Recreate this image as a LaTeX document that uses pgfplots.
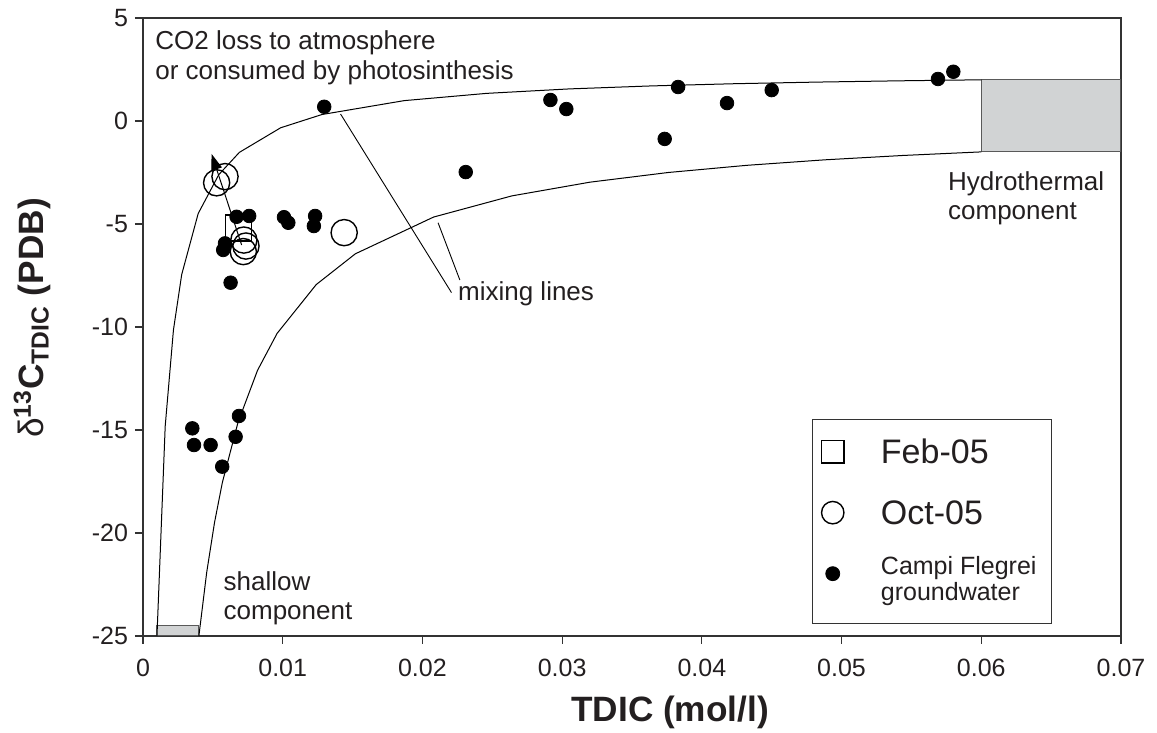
\documentclass[border=0pt]{standalone}
\usepackage{fontspec}
\setmainfont{Liberation Sans}
\usepackage{pgfplots}
\pgfplotsset{compat=1.18}
\usetikzlibrary{arrows.meta}
\definecolor{boxgray}{HTML}{D1D3D4}
\definecolor{txt}{HTML}{231F20}
\definecolor{axgray}{HTML}{333333}
\begin{document}
\begin{tikzpicture}[x=1pt,y=1pt]
\path[use as bounding box] (0,0) rectangle (578.5,366.5);
\begin{axis}[
  at={(71.5pt,48.5pt)}, anchor=south west,
  scale only axis, width=489pt, height=309pt,
  xmin=0, xmax=0.07, ymin=-25, ymax=5,
  scaled x ticks=false, scaled y ticks=false,
  xtick={0,0.01,0.02,0.03,0.04,0.05,0.06,0.07},
  xticklabels={0,0.01,0.02,0.03,0.04,0.05,0.06,0.07},
  ytick={-25,-20,-15,-10,-5,0,5},
  yticklabels={-25,-20,-15,-10,-5,0,5},
  tick align=outside, xtick pos=bottom, ytick pos=left,
  major tick length=4pt,
  tick style={axgray, line width=0.6pt},
  axis line style={axgray, line width=0.7pt},
  ticklabel style={font=\fontsize{12.5}{15}\selectfont, text=txt},
  xticklabel style={yshift=-4pt},
  clip=false,
  xlabel={\fontsize{17.6}{20}\selectfont\bfseries TDIC (mol/l)},
  ylabel={\fontsize{17.6}{20}\selectfont δ\textsuperscript{\bfseries 13}\textbf{C}\textsubscript{\bfseries TDIC}\textbf{ (PDB)}},
  every axis x label/.style={at={(axis description cs:0.539,-0.139)}, anchor=base, text=txt},
  every axis y label/.style={at={(axis description cs:-0.1019,0.5146)}, rotate=90, anchor=base, text=txt},
  legend cell align=left,
  legend style={at={(axis description cs:0.684,0.3511)}, anchor=north west,
    draw=axgray, line width=0.6pt, inner xsep=4.5pt, inner ysep=7.5pt,
    row sep=16pt, nodes={inner sep=0pt, text depth=, text height=, text=txt},
    /tikz/every odd column/.append style={column sep=18.5pt}},
]
% hydrothermal and shallow components
\addplot[fill=boxgray, draw=black!65, line width=0.5pt, forget plot] coordinates {(0.06,-1.5) (0.07,-1.5) (0.07,2) (0.06,2) (0.06,-1.5)};
\addplot[fill=boxgray, draw=black!65, line width=0.5pt, forget plot] coordinates {(0.001,-25) (0.004,-25) (0.004,-24.5) (0.001,-24.5) (0.001,-25)};
% mixing lines
\addplot[black, line width=0.5pt, mark=none, forget plot] coordinates {
(0.001,-25) (0.00159,-14.81) (0.00218,-10.14) (0.00277,-7.455) (0.00395,-4.494)
(0.005425,-2.604) (0.0069,-1.522) (0.00985,-0.330) (0.0128,0.3125) (0.0187,0.989)
(0.0246,1.341) (0.0305,1.557) (0.0364,1.703) (0.0423,1.809) (0.0482,1.888) (0.0541,1.950) (0.06,2)};
\addplot[black, line width=0.5pt, mark=none, forget plot] coordinates {
(0.004,-25) (0.00456,-21.91) (0.00512,-19.49) (0.00568,-17.55) (0.0068,-14.63)
(0.0082,-12.10) (0.0096,-10.31) (0.0124,-7.94) (0.0152,-6.447) (0.0208,-4.663)
(0.0264,-3.636) (0.032,-2.969) (0.0376,-2.5) (0.0432,-2.153) (0.0488,-1.885) (0.0544,-1.673) (0.06,-1.5)};
% Feb-05
\addplot[only marks, mark=square, mark size=6.5pt, black, line width=0.7pt,
  legend image post style={mark size=5.6pt}] coordinates {(0.00685,-5.2)};
\addlegendentry{\fontsize{17}{20}\selectfont\rule[-2.4pt]{0pt}{17pt}Feb-05}
% Oct-05
\addplot[only marks, mark=o, mark size=6.55pt, black, line width=0.7pt,
  legend image post style={mark size=5.6pt}] coordinates {
(0.0144,-5.42) (0.00587,-2.70) (0.00527,-3.0) (0.00722,-5.78) (0.00737,-6.07) (0.00718,-6.34)};
\addlegendentry{\fontsize{17}{20}\selectfont Oct-05}
% Campi Flegrei groundwater
\addplot[only marks, mark=*, mark size=3.4pt, black, fill=black, line width=0.4pt,
  legend image post style={mark size=3.5pt, yshift=4.5pt}] coordinates {
(0.01297,0.69) (0.0231,-2.48) (0.02916,1.02) (0.0303,0.58) (0.03734,-0.87)
(0.0383,1.65) (0.0418,0.87) (0.045,1.5) (0.0569,2.04) (0.058,2.39)
(0.0067,-4.65) (0.0076,-4.61) (0.01009,-4.67) (0.0104,-4.94) (0.01232,-4.61) (0.01223,-5.10)
(0.00627,-7.85) (0.00587,-5.94) (0.00574,-6.26)
(0.00353,-14.92) (0.00365,-15.73) (0.00484,-15.73) (0.00567,-16.78) (0.00663,-15.33) (0.00687,-14.32)};
\addlegendentry{\fontsize{12.5}{13}\selectfont\begin{tabular}{@{}l@{}}Campi Flegrei\hspace*{3pt}\\groundwater\end{tabular}}
% arrow
\draw[-{Triangle[length=8pt,width=5.5pt]}, line width=0.5pt, black] (axis cs:0.00706,-6.02) -- (axis cs:0.00491,-1.6);
% leader lines
\draw[line width=0.45pt, black] (axis cs:0.01414,0.34) -- (axis cs:0.02208,-8.33);
\draw[line width=0.45pt, black] (axis cs:0.02112,-4.94) -- (axis cs:0.02268,-7.72);
% annotations
\begin{scope}[every node/.style={inner sep=0pt, anchor=base west, text=txt, font=\fontsize{13}{15}\selectfont}]
\node at (axis cs:0.000858,3.447) {CO2 loss to atmosphere};
\node at (axis cs:0.000858,1.99) {or consumed by photosinthesis};
\node at (axis cs:0.02253,-8.69) {mixing lines};
\node at (axis cs:0.0576,-3.35) {Hydrothermal};
\node at (axis cs:0.0576,-4.806) {component};
\node at (axis cs:0.005745,-22.77) {shallow};
\node at (axis cs:0.005745,-24.22) {component};
\end{scope}
\end{axis}
\end{tikzpicture}
\end{document}
